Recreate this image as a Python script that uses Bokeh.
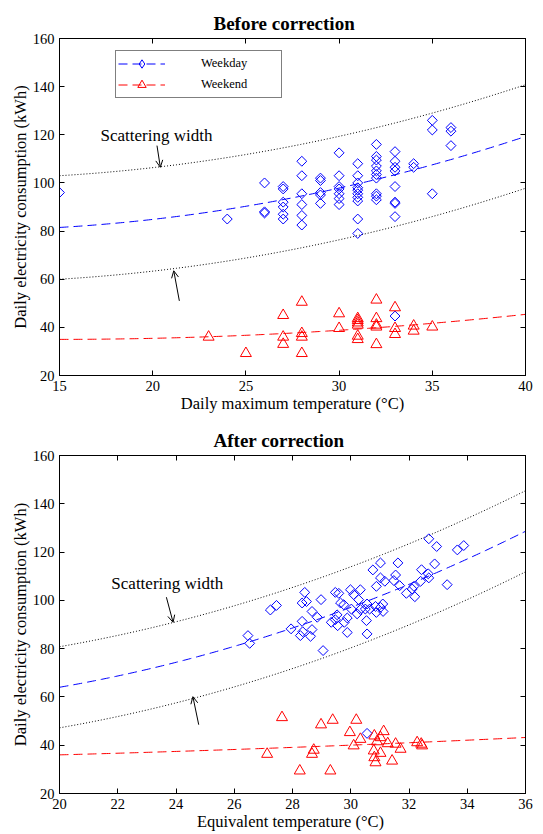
import numpy as np
from bokeh.plotting import figure
from bokeh.models import (Range1d, LinearAxis, FixedTicker, Label, Arrow, OpenHead,
                          Legend, LegendItem)
from bokeh.layouts import column
from bokeh.embed import file_html
from bokeh.resources import INLINE

FONT = "Liberation Serif"
BLUE = "#0000FF"
RED = "#FF0000"

# ---------------- Before correction (daily maximum temperature) ----------------
before_wd_x = [15, 24,
               26, 26, 26,
               27, 27, 27, 27, 27, 27,
               28, 28, 28, 28, 28, 28,
               29, 29, 29, 29, 29,
               30, 30, 30, 30, 30, 30, 30,
               31, 31, 31, 31, 31, 31, 31, 31, 31, 31,
               32, 32, 32, 32, 32, 32, 32, 32, 32, 32,
               33, 33, 33, 33, 33, 33, 33, 33, 33,
               34, 34,
               35, 35, 35,
               36, 36, 36]
before_wd_y = [96, 85,
               100, 88, 87.5,
               98.5, 97.5, 92, 90, 87, 85,
               109, 103, 95.5, 91, 86.5, 82.5,
               102, 101, 96, 95, 91.5,
               112.5, 103, 98.5, 97.5, 95.5, 93.5, 91,
               108, 103, 100, 98, 97, 95.5, 94, 92.5, 85, 79,
               116, 111, 109.5, 107, 105, 103.5, 102, 95.5, 94.5, 93,
               113, 109, 106.5, 105, 98.5, 92, 91.5, 86, 44.7,
               108, 106.5,
               126, 122, 95.5,
               123, 121.5, 115.5]
before_we_x = [23, 25, 27, 27, 27, 28, 28, 28, 28, 30, 30,
               31, 31, 31, 31, 31, 31, 32, 32, 32, 32, 32,
               33, 33, 33, 34, 34, 35]
before_we_y = [36, 29.2, 45, 36, 33, 50.5, 37.5, 36, 29.2, 45.7, 39.6,
               43.7, 42.9, 41.9, 41, 36.4, 35, 51.4, 43.7, 41, 40.2, 32.9,
               48.2, 39.6, 37.1, 40.6, 38.5, 40.2]
# fitted curves: y = c0 + c1*(x - x0) + c2*(x - x0)^2
before_x0 = 15
before_wd_fit = [81.5, 0.459, 0.0421]
before_we_fit = [35.0, 0.006, 0.0164]
before_width = 21.5   # scattering width (+/-)

# ---------------- After correction (equivalent temperature) ----------------
after_wd_x = [32.68, 32.95, 33.66, 33.88, 31.02, 30.76, 31.62, 32.43, 32.88,
              31.54, 31.02, 31.17, 30.88, 31.48, 31.68, 32.66, 32.68, 32.40,
              32.17, 31.91, 32.20, 33.31, 32.11, 28.42, 28.33, 28.48, 27.24,
              27.45, 28.98, 29.47, 29.59, 29.99, 30.33, 30.10, 30.27, 29.65,
              29.76, 30.56, 30.50, 30.85, 31.10, 30.33, 30.22, 30.02, 30.65,
              30.88, 31.11, 31.02, 28.67, 28.85, 29.53, 29.47, 29.33, 29.55,
              29.88, 29.78, 29.88, 30.54, 30.56, 28.33, 27.95, 28.35, 28.67,
              28.27, 28.62, 26.47, 26.53, 29.05, 30.56]
after_wd_y = [125.5, 122.3, 120.9, 122.7, 115.5, 112.6, 115.5, 112.7, 115.1,
              110.5, 109.3, 107.9, 105.8, 108.2, 106.1, 111.0, 109.3, 107.9,
              105.8, 102.9, 101.5, 106.5, 104.7, 103.3, 98.9, 99.5, 96.0,
              97.9, 100.3, 103.3, 102.9, 104.4, 104.4, 102.4, 100.3, 98.9,
              98.2, 98.5, 96.4, 97.5, 98.5, 96.2, 94.4, 96.4, 96.4,
              95.0, 95.4, 97.1, 95.4, 93.0, 94.0, 92.0, 90.9, 89.5,
              92.7, 90.9, 86.7, 91.6, 86.1, 91.3, 88.2, 87.0, 87.9,
              85.4, 85.1, 85.4, 82.2, 79.2, 44.9]
after_we_x = [27.64, 28.98, 29.38, 30.19, 29.97, 30.33, 31.13, 30.81, 31.02,
              30.90, 30.10, 31.27, 31.54, 31.71, 30.79, 31.02, 30.81, 30.85,
              31.42, 27.13, 28.73, 28.67, 28.25, 29.30, 32.28, 32.42, 32.45]
after_we_y = [51.5, 48.5, 50.4, 50.4, 45.3, 42.5, 45.7, 43.9, 43.2,
              41.5, 39.8, 40.7, 40.5, 38.4, 37.7, 36.7, 34.9, 32.8,
              33.5, 36.3, 38.0, 36.3, 29.4, 29.4, 41.1, 40.5, 39.8]
after_x0 = 20
after_wd_fit = [64.0, 2.097, 0.1213]
after_we_fit = [36.0, 0.325, 0.0078]
after_width = 16.8

# annotation positions (data units): label (x_left, y_mid); arrows (xs, ys, xe, ye)
before_label = (17.2, 119.7)
before_arrows = [(20.23, 115.5, 20.41, 106.5), (21.43, 51.0, 21.13, 63.5)]
after_label = (21.78, 106.9)
after_arrows = [(23.67, 101.3, 23.9, 90.9), (24.78, 48.5, 24.58, 60.1)]

x_ticks_before = [15, 20, 25, 30, 35, 40]
x_ticks_after = [20, 22, 24, 26, 28, 30, 32, 34, 36]
y_ticks = [20, 40, 60, 80, 100, 120, 140, 160]
legend_labels = ["Weekday", "Weekend"]


def curve(coef, x0, xs):
    t = xs - x0
    return coef[0] + coef[1] * t + coef[2] * t * t


def style_axis(ax, ticks, labels=True):
    ax.ticker = FixedTicker(ticks=ticks)
    ax.major_tick_in = 5
    ax.major_tick_out = 0
    ax.minor_tick_line_color = None
    ax.axis_line_color = "black"
    ax.axis_line_width = 1
    ax.major_tick_line_color = "black"
    ax.major_label_text_font = FONT
    ax.major_label_text_font_size = "14.5px"
    ax.major_label_text_color = "black"
    ax.axis_label_text_font = FONT
    ax.axis_label_text_font_size = "16.5px"
    ax.axis_label_text_font_style = "normal"
    ax.axis_label_text_color = "black"
    if labels:
        ax.major_label_standoff = 5
        ax.axis_label_standoff = 0
    else:
        ax.major_label_text_font_size = "1px"
        ax.major_label_text_color = None
        ax.major_label_standoff = 0


def make_fig(title, height, top_b, bottom_b, xr, xticks, xlabel,
             wd_x, wd_y, we_x, we_y, x0, wd_fit, we_fit, width,
             label_pos, arrows, legend=False):
    p = figure(width=543, height=height, x_range=Range1d(*xr), y_range=Range1d(20, 160),
               output_backend="svg", toolbar_location=None,
               min_border_left=59, min_border_right=18,
               min_border_top=top_b, min_border_bottom=bottom_b)
    p.title.text = title
    p.title.align = "left"
    p.title.offset = 154
    p.title.text_font = FONT
    p.title.text_font_size = "19px"
    p.title.text_font_style = "bold"
    p.title.text_color = "black"
    p.title.standoff = 9
    p.grid.visible = False
    p.outline_line_color = "black"
    p.background_fill_color = "white"
    p.border_fill_color = "white"

    p.xaxis.axis_label = xlabel
    p.yaxis.axis_label = "Daily electricity consumption (kWh)"
    style_axis(p.xaxis[0], xticks)
    style_axis(p.yaxis[0], y_ticks)
    top_ax = LinearAxis()
    right_ax = LinearAxis()
    p.add_layout(top_ax, "above")
    p.add_layout(right_ax, "right")
    style_axis(top_ax, xticks, labels=False)
    style_axis(right_ax, y_ticks, labels=False)

    xs = np.linspace(xr[0], xr[1], 200)
    mean_wd = curve(wd_fit, x0, xs)
    mean_we = curve(we_fit, x0, xs)
    p.line(xs, mean_wd + width, line_color="black", line_dash="1 2", line_width=1)
    p.line(xs, mean_wd - width, line_color="black", line_dash="1 2", line_width=1)
    wl = p.line(xs, mean_wd, line_color=BLUE, line_dash="9 5", line_width=1)
    el = p.line(xs, mean_we, line_color=RED, line_dash="9 5", line_width=1)
    p.scatter(wd_x, wd_y, marker="square", size=7, angle=np.pi / 4,
              fill_color=None, line_color=BLUE, line_width=1)
    es = p.scatter(we_x, we_y, marker="triangle", size=11,
                   fill_color=None, line_color=RED, line_width=1)

    p.add_layout(Label(x=label_pos[0], y=label_pos[1], text="Scattering width",
                       text_font=FONT, text_font_size="17px", text_baseline="middle",
                       text_align="left", text_color="black"))
    for (xs0, ys0, xe0, ye0) in arrows:
        p.add_layout(Arrow(x_start=xs0, y_start=ys0, x_end=xe0, y_end=ye0,
                           line_color="black", line_width=1,
                           end=OpenHead(size=7, line_color="black", line_width=1)))

    if legend:
        # legend key glyph only (a single NaN point, nothing drawn in the plot area)
        wd_key = p.scatter([np.nan], [np.nan], marker="diamond", size=10,
                           fill_color=None, line_color=BLUE, line_width=1)
        lg = Legend(items=[LegendItem(label=legend_labels[0], renderers=[wl, wd_key]),
                           LegendItem(label=legend_labels[1], renderers=[el, es])],
                    location=(56, 277), orientation="vertical",
                    border_line_color="black", border_line_width=1,
                    background_fill_color="white", background_fill_alpha=1.0,
                    label_text_font=FONT, label_text_font_size="12.5px",
                    label_text_color="black",
                    glyph_width=47, glyph_height=21, label_standoff=36,
                    label_width=78, label_height=21, padding=2, spacing=-4, margin=0)
        p.add_layout(lg)
    return p


p1 = make_fig("Before correction", 415, 38, 40, (15, 40), x_ticks_before,
              "Daily maximum temperature (°C)",
              before_wd_x, before_wd_y, before_we_x, before_we_y,
              before_x0, before_wd_fit, before_we_fit, before_width,
              before_label, before_arrows, legend=True)
p2 = make_fig("After correction", 418, 40, 40, (20, 36), x_ticks_after,
              "Equivalent temperature  (°C)",
              after_wd_x, after_wd_y, after_we_x, after_we_y,
              after_x0, after_wd_fit, after_we_fit, after_width,
              after_label, after_arrows)

layout = column(p1, p2, spacing=0)
open("out.html", "w").write(file_html(layout, INLINE))
